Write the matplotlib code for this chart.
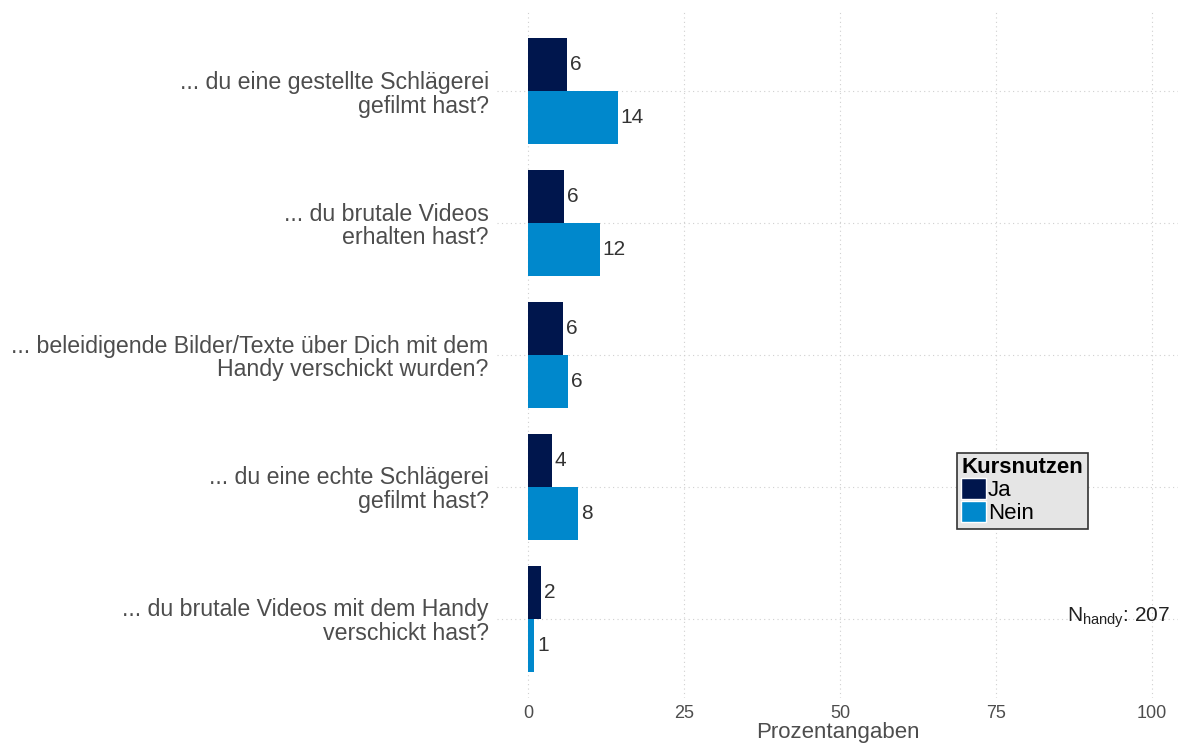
import numpy as np
import matplotlib
matplotlib.use('Agg')
import matplotlib.pyplot as plt
from matplotlib.patches import Patch

plt.rcParams['font.family'] = ['Liberation Sans', 'DejaVu Sans']
plt.rcParams['mathtext.default'] = 'regular'

# data
fragen = ['... du eine gestellte Schlägerei\ngefilmt hast?',
          '... du brutale Videos\nerhalten hast?',
          '... beleidigende Bilder/Texte über Dich mit dem\nHandy verschickt wurden?',
          '... du eine echte Schlägerei\ngefilmt hast?',
          '... du brutale Videos mit dem Handy\nverschickt hast?']
ja = [6.2, 5.7, 5.6, 3.85, 2.1]
nein = [14.4, 11.5, 6.4, 8.0, 0.96]
xticks = [0, 25, 50, 75, 100]
n_handy = 207

col_ja = '#00164d'
col_nein = '#0088cc'
grau = '#4d4d4d'

W, H = 1178, 745
fig = plt.figure(figsize=(W / 100, H / 100), dpi=100)
ax = fig.add_axes([497 / W, 47 / H, (W - 497) / W, (698 - 12) / H])

y = np.arange(len(fragen))
bh = 0.4
ax.barh(y - bh / 2, ja, height=bh, color=col_ja, zorder=2)
ax.barh(y + bh / 2, nein, height=bh, color=col_nein, zorder=2)

# value labels
for yi, v in zip(y, ja):
    ax.text(v + 0.45, yi - bh / 2, f'{v:.0f}', ha='left', va='center',
            fontsize=15, color='#333333')
for yi, v in zip(y, nein):
    ax.text(v + 0.45, yi + bh / 2, f'{v:.0f}', ha='left', va='center',
            fontsize=15, color='#333333')

ax.set_xlim(-5, 104.2)
ax.set_ylim(len(fragen) - 0.4, -0.6)
ax.set_xticks(xticks)
ax.set_xticklabels([str(t) for t in xticks])
ax.set_yticks(y)
ax.set_yticklabels(fragen, fontsize=16.7, color=grau, linespacing=1.05)
ax.tick_params(axis='x', length=0, labelsize=13, labelcolor=grau, pad=5)
ax.tick_params(axis='y', length=0, pad=6)
ax.set_xlabel('Prozentangaben', fontsize=16, color=grau, labelpad=0)

ax.grid(True, linestyle=(0, (1, 3)), color='#d0d0d0', linewidth=0.8, zorder=0)
for s in ax.spines.values():
    s.set_visible(False)

# legend
handles = [Patch(facecolor=col_ja, edgecolor='white', label='Ja'),
           Patch(facecolor=col_nein, edgecolor='white', label='Nein')]
leg = ax.legend(handles=handles, title='Kursnutzen', loc='upper left',
                bbox_to_anchor=(957 / W, 1 - 453 / H), bbox_transform=fig.transFigure,
                fontsize=16, title_fontsize=16, frameon=True, fancybox=False,
                facecolor='#e5e5e5', edgecolor='#333333', framealpha=1,
                handlelength=1.1, handleheight=1.05, handletextpad=0.1,
                labelspacing=0.0, borderpad=0.2, borderaxespad=0)
leg.get_title().set_fontweight('bold')
leg._legend_box.align = 'left'
leg.get_frame().set_linewidth(1.2)

fig.text(1170 / W, 1 - 618 / H, r'N$_{handy}$: ' + str(n_handy), ha='right', va='center',
         fontsize=15, color='#222222')

fig.savefig('out.png', dpi=100)
